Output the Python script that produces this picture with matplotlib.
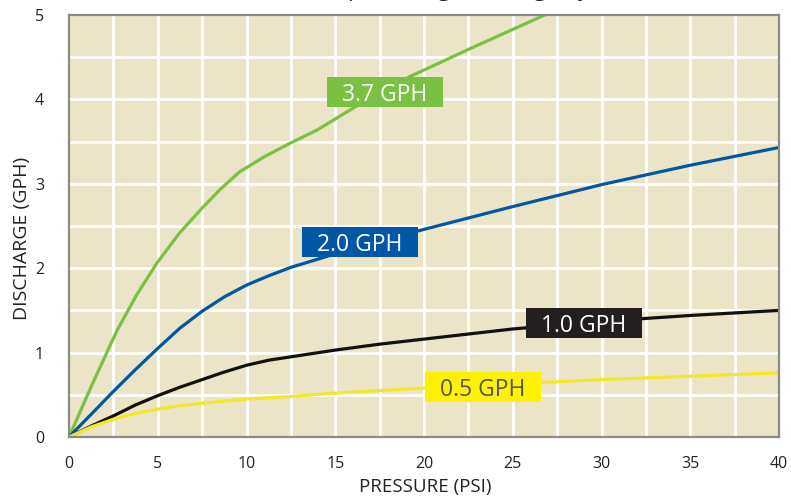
import matplotlib
matplotlib.use("Agg")
import matplotlib.pyplot as plt
from matplotlib.patches import Rectangle

# ---- data ----
psi_37 = [0, 1.3, 2.7, 3.8, 4.95, 6.2, 7.4, 8.5, 9.6, 11.0, 12.45, 14, 16.5, 19.2, 23, 26.8, 28]
gph_37 = [0, 0.62, 1.26, 1.68, 2.06, 2.41, 2.69, 2.93, 3.14, 3.32, 3.48, 3.64, 3.96, 4.27, 4.64, 5.0, 5.11]

psi_20 = [0, 1.3, 2.5, 3.75, 5, 6.25, 7.5, 8.75, 10, 11.25, 12.5, 13.75, 15, 17.5, 20, 25, 30, 35, 40]
gph_20 = [0, 0.28, 0.54, 0.80, 1.05, 1.29, 1.49, 1.66, 1.80, 1.91, 2.01, 2.09, 2.17, 2.32, 2.46, 2.73, 2.99, 3.22, 3.43]

psi_10 = [0, 1.25, 2.5, 3.75, 5, 6.25, 7.5, 8.75, 10, 11.25, 12.5, 15, 17.5, 20, 25, 30, 35, 40]
gph_10 = [0, 0.13, 0.25, 0.38, 0.49, 0.59, 0.68, 0.77, 0.85, 0.91, 0.95, 1.03, 1.10, 1.16, 1.28, 1.37, 1.44, 1.50]

psi_05 = [0, 1.25, 2.5, 3.75, 5, 6.25, 7.5, 10, 12.5, 15, 20, 25, 30, 35, 40]
gph_05 = [0, 0.12, 0.21, 0.28, 0.33, 0.37, 0.40, 0.45, 0.48, 0.52, 0.58, 0.63, 0.68, 0.72, 0.76]

series_labels = ["3.7 GPH", "2.0 GPH", "1.0 GPH", "0.5 GPH"]
label_pos = [(17.8, 4.09), (16.4, 2.31), (29.0, 1.35), (23.3, 0.59)]

x_ticks = [0, 5, 10, 15, 20, 25, 30, 35, 40]
y_ticks = [0, 1, 2, 3, 4, 5]

title_text = "Pressure Compensating Discharge by Size"

# ---- style ----
plt.rcParams['font.family'] = ['Open Sans', 'DejaVu Sans']

line_colors = ["#7AC143", "#0057A6", "#111111", "#F2E82B"]
box_colors = ["#7AC143", "#0057A6", "#231F20", "#FFF200"]
text_colors = ["white", "white", "white", "#555555"]

W, H = 791, 497
fig = plt.figure(figsize=(W / 100, H / 100), dpi=100)
ax = fig.add_axes([69 / W, 60 / H, 710 / W, 422 / H])
ax.set_facecolor("#EBE4C6")

ax.set_xlim(0, 40)
ax.set_ylim(0, 5)

# grid every 2.5 psi, 0.5 gph
for gx in [i * 2.5 for i in range(1, 16)]:
    ax.axvline(gx, color="white", lw=2.0, zorder=1)
for gy in [i * 0.5 for i in range(1, 10)]:
    ax.axhline(gy, color="white", lw=2.0, zorder=1)

data = [(psi_37, gph_37), (psi_20, gph_20), (psi_10, gph_10), (psi_05, gph_05)]
for (xs, ys), c in zip(data, line_colors):
    ax.plot(xs, ys, color=c, lw=2.3, zorder=3, solid_joinstyle='round')

# label boxes (fixed pixel size centred on the data point)
bw, bh = 116, 30
for lab, (lx, ly), bc, tc in zip(series_labels, label_pos, box_colors, text_colors):
    px, py = ax.transData.transform((lx, ly))
    rect = Rectangle((px - bw / 2, py - bh / 2), bw, bh, transform=None,
                     facecolor=bc, edgecolor="none", zorder=4)
    ax.add_artist(rect)
    ax.text(lx, ly, lab, ha="center", va="center_baseline", fontsize=16.5,
            color=tc, zorder=5)

ax.set_xticks(x_ticks)
ax.set_yticks(y_ticks)
ax.tick_params(axis="both", length=0, labelsize=11.5, colors="#222222")
ax.tick_params(axis="x", pad=14)
ax.tick_params(axis="y", pad=18)

for s in ax.spines.values():
    s.set_color("#8A8A8A")
    s.set_linewidth(1.6)
    s.set_zorder(6)

fig.text(425 / W, 1 - 487 / H, "PRESSURE (PSI)", ha="center", va="center",
         fontsize=13.5, color="#222222")
fig.text(22 / W, 1 - 238 / H, "DISCHARGE (GPH)", ha="center", va="center",
         rotation=90, fontsize=14, color="#222222")

fig.text(0.53, 1 + 4 / H, title_text, ha="center", va="baseline", fontsize=16,
         color="#222222")

fig.savefig("out.png", dpi=100)
